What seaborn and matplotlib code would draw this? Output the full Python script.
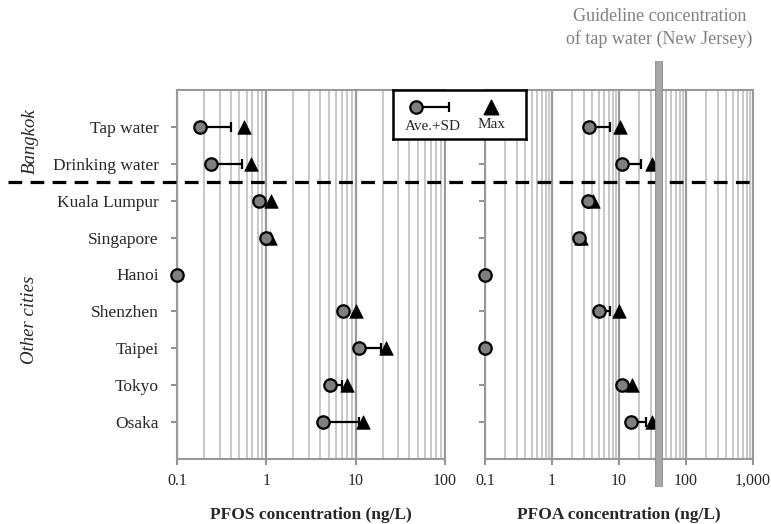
import numpy as np
import pandas as pd
import matplotlib
matplotlib.use("Agg")
import matplotlib.pyplot as plt
import matplotlib.transforms as mtransforms
import matplotlib.patheffects as pe
from matplotlib.ticker import LogLocator, NullFormatter
import seaborn as sns

# ---------------- data ----------------
locations = ["Tap water", "Drinking water", "Kuala Lumpur", "Singapore", "Hanoi",
             "Shenzhen", "Taipei", "Tokyo", "Osaka"]
pfos_mean = [0.18, 0.24, 0.82, 1.0, 0.1, 7.3, 11.0, 5.2, 4.3]
pfos_sd_end = [0.40, 0.53, 0.82, 1.0, 0.1, 7.3, 19.0, 7.0, 11.0]
pfos_max = [0.56, 0.67, 1.12, 1.1, np.nan, 10.0, 22.0, 8.1, 12.0]
pfoa_mean = [3.6, 11.0, 3.5, 2.5, 0.1, 5.0, 0.1, 11.0, 15.0]
pfoa_sd_end = [7.3, 21.0, 3.5, 2.5, 0.1, 7.3, 0.1, 12.5, 25.0]
pfoa_max = [10.5, 31.0, 4.1, 2.7, np.nan, 10.0, np.nan, 15.5, 31.0]
guideline_pfoa = 40.0
pfos_ticks = [0.1, 1, 10, 100]
pfos_ticklabels = ["0.1", "1", "10", "100"]
pfoa_ticks = [0.1, 1, 10, 100, 1000]
pfoa_ticklabels = ["0.1", "1", "10", "100", "1,000"]

sns.set_theme(style="white")
plt.rcParams["font.family"] = ["Liberation Serif", "DejaVu Serif"]

W, H = 771, 524
fig = plt.figure(figsize=(W / 100, H / 100), dpi=100)


def fx(px):
    return px / W


def fy(py):
    return 1 - py / H


axL = fig.add_axes([fx(177), fy(459), fx(445 - 177), (459 - 90) / H])
axR = fig.add_axes([fx(485), fy(459), fx(753 - 485), (459 - 90) / H])

ypos = np.arange(len(locations))
grid_minor = "#c4c4c4"
grid_major = "#9a9a9a"

panels = [
    (axL, pfos_mean, pfos_sd_end, pfos_max, (0.1, 100), pfos_ticks, pfos_ticklabels,
     "PFOS concentration (ng/L)"),
    (axR, pfoa_mean, pfoa_sd_end, pfoa_max, (0.1, 1000), pfoa_ticks, pfoa_ticklabels,
     "PFOA concentration (ng/L)"),
]

for ax, mean, sd_end, mx, xlim, ticks, ticklabels, xlabel in panels:
    df = pd.DataFrame({"loc": locations, "mean": mean, "sd_end": sd_end, "max": mx,
                       "y": ypos})
    ax.set_xscale("log")
    # error bars (one-sided, mean -> mean+SD)
    err_hi = np.array(sd_end) - np.array(mean)
    ax.errorbar(df["mean"], df["y"], xerr=[np.zeros(len(mean)), err_hi], fmt="none",
                ecolor="black", elinewidth=1.6, capsize=3.5, capthick=1.6, zorder=3)
    sns.scatterplot(data=df, x="max", y="y", marker="^", s=95, color="black",
                    edgecolor="black", linewidth=0.5, ax=ax, zorder=4, clip_on=False,
                    legend=False)
    sns.scatterplot(data=df, x="mean", y="y", marker="o", s=80, color="#7f7f7f",
                    edgecolor="black", linewidth=1.6, ax=ax, zorder=5, clip_on=False,
                    legend=False)
    ax.set_xlim(*xlim)
    ax.set_ylim(len(locations), -1)
    ax.set_xticks(ticks)
    ax.set_xticklabels(ticklabels)
    ax.xaxis.set_minor_locator(LogLocator(base=10, subs=np.arange(2, 10), numticks=20))
    ax.xaxis.set_minor_formatter(NullFormatter())
    ax.grid(which="minor", axis="x", color=grid_minor, lw=1.3, zorder=0)
    ax.grid(which="major", axis="x", color=grid_major, lw=1.6, zorder=0)
    ax.set_axisbelow(True)
    ax.set_yticks(ypos)
    for sp in ax.spines.values():
        sp.set_color("#999999")
        sp.set_linewidth(1.5)
    ax.tick_params(axis="x", which="major", direction="out", length=4, width=1.3,
                   color="#888888", labelsize=11.5, pad=6, bottom=True)
    ax.tick_params(axis="x", which="minor", length=0)
    ax.tick_params(axis="y", direction="out", length=4, width=1.3, color="#888888",
                   left=True, labelsize=12.5, pad=9)
    ax.set_xlabel(xlabel, fontsize=12.5, fontweight="bold", labelpad=13)
    ax.set_ylabel("")

axL.set_yticklabels(locations)
axR.set_yticklabels([])

# dashed separator between Bangkok and other cities
trans = mtransforms.blended_transform_factory(fig.transFigure, axL.transData)
fig.add_artist(plt.Line2D([fx(8), fx(750)], [1.5, 1.5], transform=trans, color="black",
                          lw=2.3, linestyle=(0, (4.3, 2.6)), zorder=6))

# guideline bar
transG = mtransforms.blended_transform_factory(axR.transData, fig.transFigure)
fig.add_artist(plt.Line2D([guideline_pfoa, guideline_pfoa], [fy(487), fy(61)],
                          transform=transG, color="#a8a8a8", lw=4.2, zorder=7,
                          solid_capstyle="butt",
                          path_effects=[pe.Stroke(linewidth=5.6, foreground="#8a8a8a"),
                                        pe.Normal()]))
fig.text(guideline_pfoa, fy(28), "Guideline concentration\nof tap water (New Jersey)",
         transform=transG, ha="center", va="center", color="#808080", fontsize=13,
         linespacing=1.35)

# group labels
fig.text(fx(30), fy(141), "Bangkok", rotation=90, style="italic", fontsize=13.5,
         ha="center", va="center")
fig.text(fx(30), fy(320), "Other cities", rotation=90, style="italic", fontsize=13.5,
         ha="center", va="center")

# legend box
lg = fig.add_axes([fx(393), fy(139), fx(526 - 393), (139 - 90) / H], zorder=10)
lg.set_xlim(0, 1)
lg.set_ylim(0, 1)
lg.set_xticks([])
lg.set_yticks([])
lg.set_facecolor("white")
for sp in lg.spines.values():
    sp.set_color("black")
    sp.set_linewidth(1.8)
lg.errorbar([0.17], [0.65], xerr=[[0], [0.25]], fmt="none", ecolor="black",
            elinewidth=1.6, capsize=3.5, capthick=1.6)
lg.scatter([0.17], [0.65], marker="o", s=80, color="#7f7f7f", edgecolor="black",
           linewidth=1.6, zorder=5)
lg.scatter([0.74], [0.65], marker="^", s=110, color="black", zorder=5)
lg.text(0.30, 0.26, "Ave.+SD", ha="center", va="center", fontsize=11)
lg.text(0.74, 0.29, "Max", ha="center", va="center", fontsize=11)

fig.savefig("out.png", dpi=100)
